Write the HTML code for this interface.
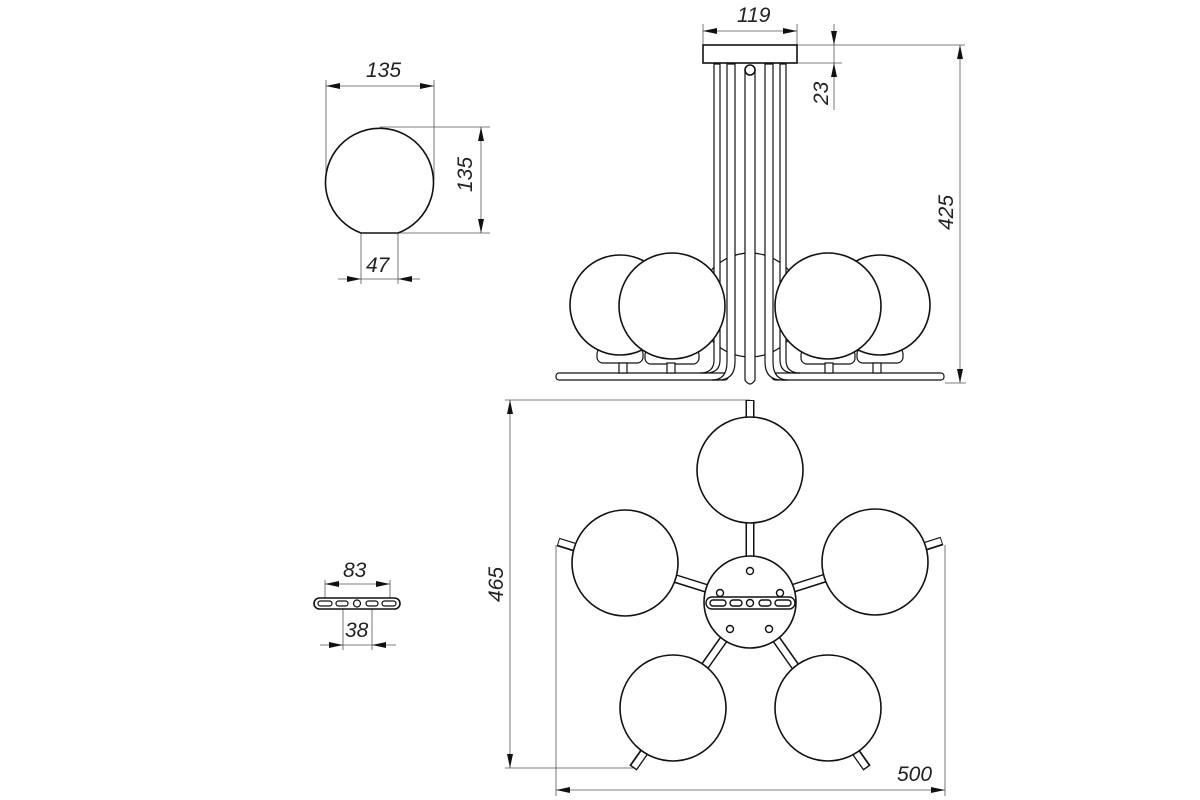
<!DOCTYPE html>
<html><head><meta charset="utf-8"><style>
html,body{margin:0;padding:0;background:#fff}
svg{display:block}
text{font-family:"Liberation Sans",sans-serif;font-style:italic;font-size:21px;fill:#222}
</style></head><body>
<svg width="1200" height="800" viewBox="0 0 1200 800">
<defs>
<marker id="a" viewBox="0 0 14 6" refX="14" refY="3" markerWidth="14" markerHeight="6" orient="auto-start-reverse" markerUnits="userSpaceOnUse"><path d="M0,0L14,3L0,6Z" fill="#111"/></marker>
</defs>
<g stroke="#555" stroke-width="0.8" fill="none">
<line x1="326" y1="80" x2="326" y2="180"/><line x1="434" y1="80" x2="434" y2="180"/>
<line x1="326" y1="86" x2="434" y2="86" marker-start="url(#a)" marker-end="url(#a)"/>
<line x1="380" y1="127" x2="490" y2="127"/><line x1="398" y1="233" x2="490" y2="233"/>
<line x1="481" y1="127" x2="481" y2="233" marker-start="url(#a)" marker-end="url(#a)"/>
<line x1="361" y1="233" x2="361" y2="284"/><line x1="398" y1="233" x2="398" y2="284"/>
<line x1="338" y1="279" x2="361" y2="279" marker-end="url(#a)"/><line x1="420" y1="279" x2="398" y2="279" marker-end="url(#a)"/>
<line x1="361" y1="279" x2="398" y2="279"/>
<line x1="325" y1="580" x2="325" y2="600"/><line x1="390" y1="580" x2="390" y2="600"/>
<line x1="325" y1="584" x2="390" y2="584" marker-start="url(#a)" marker-end="url(#a)"/>
<line x1="343" y1="603" x2="343" y2="650"/><line x1="372" y1="603" x2="372" y2="650"/>
<line x1="320" y1="645" x2="343" y2="645" marker-end="url(#a)"/><line x1="396" y1="645" x2="372" y2="645" marker-end="url(#a)"/>
<line x1="343" y1="645" x2="372" y2="645"/>
<line x1="703" y1="24" x2="703" y2="45"/><line x1="797" y1="24" x2="797" y2="45"/>
<line x1="703" y1="31" x2="797" y2="31" marker-start="url(#a)" marker-end="url(#a)"/>
<line x1="797" y1="45" x2="965" y2="45"/><line x1="797" y1="63" x2="842" y2="63"/>
<line x1="834" y1="24" x2="834" y2="45" marker-end="url(#a)"/><line x1="834" y1="110" x2="834" y2="63" marker-end="url(#a)"/>
<line x1="834" y1="45" x2="834" y2="63"/>
<line x1="945" y1="383" x2="966" y2="383"/>
<line x1="960" y1="45" x2="960" y2="383" marker-start="url(#a)" marker-end="url(#a)"/>
<line x1="505" y1="400" x2="750" y2="400"/><line x1="505" y1="768" x2="633" y2="768"/>
<line x1="510" y1="400" x2="510" y2="768" marker-start="url(#a)" marker-end="url(#a)"/>
<line x1="556" y1="545" x2="556" y2="796"/><line x1="945" y1="545" x2="945" y2="796"/>
<line x1="556" y1="790" x2="945" y2="790" marker-start="url(#a)" marker-end="url(#a)"/>
</g>
<g>
<text x="366" y="77">135</text>
<text x="366" y="272">47</text>
<text transform="translate(472,192) rotate(-90)">135</text>
<text x="343" y="577">83</text>
<text x="345" y="637">38</text>
<text x="737" y="22">119</text>
<text transform="translate(828,105) rotate(-90)">23</text>
<text transform="translate(953,230) rotate(-90)">425</text>
<text transform="translate(503,602) rotate(-90)">465</text>
<text x="897" y="781">500</text>
</g>
<g stroke="#111" stroke-width="1.6" fill="#fff">
<path d="M361,233 A54,54 0 1 1 398,233 Z"/>
<rect x="314" y="598" width="86" height="11" rx="5.5"/>
<g stroke-width="1.2"><rect x="318" y="601" width="14" height="5" rx="2.5"/><rect x="336" y="601" width="12" height="5" rx="2.5"/><circle cx="357" cy="603.5" r="3.5"/><rect x="366" y="601" width="12" height="5" rx="2.5"/><rect x="382" y="601" width="14" height="5" rx="2.5"/></g>
<!-- side view -->
<circle cx="750" cy="305" r="52" stroke-width="1.2"/>
<rect x="703" y="45" width="94" height="18"/>
<g stroke-width="1.2">
<rect x="556" y="373" width="172" height="7" rx="3"/>
<rect x="772" y="373" width="172" height="7" rx="3"/>
</g>
<g stroke-width="1.2">
<path d="M714,64V360Q714,373 700,373H706Q720,373 720,360V64Z"/>
<path d="M727,64V362Q727,380 712,380H718Q735,380 735,362V64Z"/>
<path d="M745,70V380Q750,388 755,380V70Z"/>
<path d="M786,64V360Q786,373 800,373H794Q780,373 780,360V64Z"/>
<path d="M773,64V362Q773,380 788,380H782Q765,380 765,362V64Z"/>
</g>
<circle cx="750" cy="70" r="5"/>
<g stroke-width="1.2">
<rect x="597" y="348" width="46" height="15" rx="6"/><rect x="645" y="349" width="54" height="15" rx="6"/>
<rect x="801" y="349" width="54" height="15" rx="6"/><rect x="857" y="348" width="46" height="15" rx="6"/>
<rect x="619" y="363" width="8" height="10"/><rect x="667" y="363" width="8" height="10"/>
<rect x="825" y="363" width="8" height="10"/><rect x="873" y="363" width="8" height="10"/>
</g>
<circle cx="620" cy="305" r="50"/>
<circle cx="672" cy="306" r="53"/>
<circle cx="880" cy="305" r="50"/>
<circle cx="828" cy="306" r="53"/>
<g fill="none" stroke-linecap="butt">
<g stroke="#111" stroke-width="9">
<line x1="750" y1="602" x2="750" y2="400"/><line x1="750" y1="602" x2="558" y2="542"/><line x1="750" y1="602" x2="942" y2="541"/><line x1="750" y1="602" x2="633" y2="768"/><line x1="750" y1="602" x2="867" y2="768"/>
</g>
<g stroke="#fff" stroke-width="6">
<line x1="750" y1="602" x2="750" y2="401"/><line x1="750" y1="602" x2="559" y2="542"/><line x1="750" y1="602" x2="941" y2="541"/><line x1="750" y1="602" x2="634" y2="767"/><line x1="750" y1="602" x2="866" y2="767"/>
</g>
</g>
<circle cx="750" cy="470" r="53"/>
<circle cx="625" cy="563" r="53"/>
<circle cx="875" cy="562" r="53"/>
<circle cx="673" cy="708" r="53"/>
<circle cx="828" cy="708" r="53"/>
<circle cx="750" cy="602" r="46"/>
<g stroke-width="1.4">
<circle cx="750" cy="571" r="3.5"/><circle cx="720" cy="593" r="3.5"/><circle cx="780" cy="593" r="3.5"/>
<circle cx="730" cy="629" r="3.5"/><circle cx="769" cy="629" r="3.5"/>
<rect x="706" y="597" width="89" height="12" rx="6"/>
<rect x="710" y="600" width="16" height="6" rx="3"/><rect x="730" y="600" width="12" height="6" rx="3"/><circle cx="750" cy="603" r="3.5"/><rect x="759" y="600" width="12" height="6" rx="3"/><rect x="775" y="600" width="16" height="6" rx="3"/>
</g>
</g>
</svg>
</body></html>
